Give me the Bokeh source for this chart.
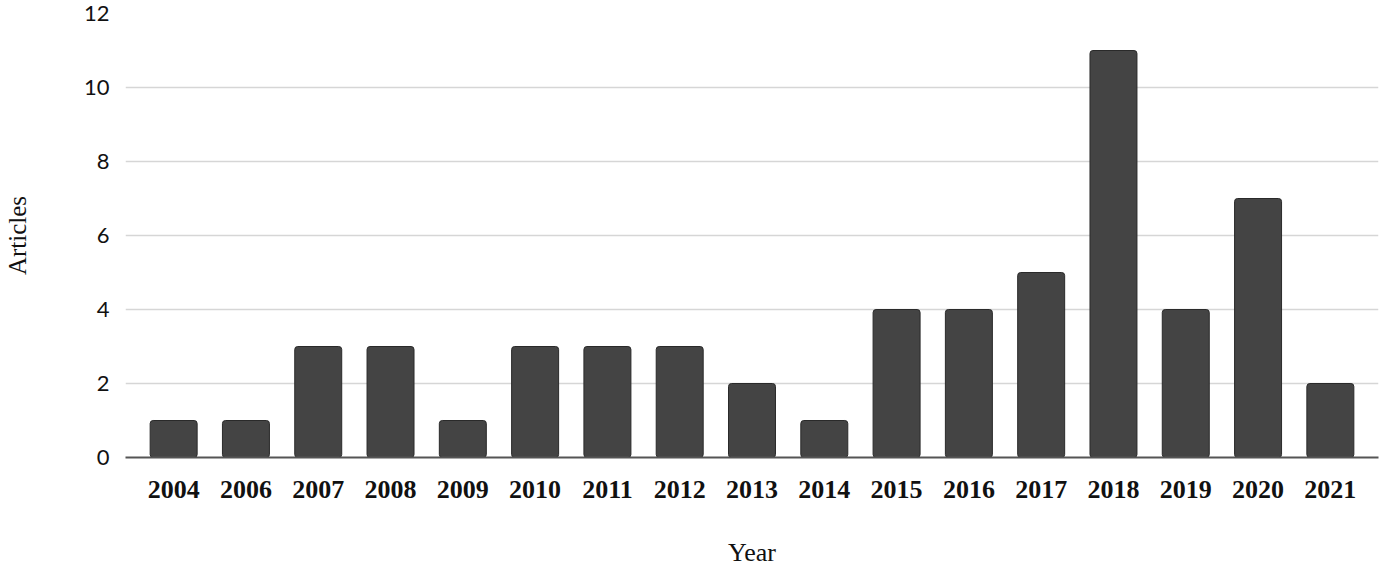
from bokeh.plotting import figure
from bokeh.models import ColumnDataSource, Range1d, FixedTicker, FactorRange
from bokeh.embed import file_html
from bokeh.resources import INLINE

years = ["2004", "2006", "2007", "2008", "2009", "2010", "2011", "2012", "2013",
         "2014", "2015", "2016", "2017", "2018", "2019", "2020", "2021"]
articles = [1, 1, 3, 3, 1, 3, 3, 3, 2, 1, 4, 4, 5, 11, 4, 7, 2]
y_ticks = [0, 2, 4, 6, 8, 10, 12]

src = ColumnDataSource(dict(year=years, articles=articles))

xr = FactorRange(factors=years, range_padding=0.166, range_padding_units="absolute")

p = figure(x_range=xr, y_range=Range1d(0, 12), width=1381, height=573,
           output_backend="svg", toolbar_location=None,
           min_border_left=125, min_border_right=3, min_border_top=13,
           min_border_bottom=116)
p.outline_line_color = None
p.background_fill_color = "white"
p.border_fill_color = "white"

p.vbar(x="year", top="articles", width=0.65, source=src,
       fill_color="#444444", line_color="#2a2a2a", line_width=1,
       border_radius=3)

p.xgrid.grid_line_color = None
p.ygrid.grid_line_color = "#d6d6d6"
p.ygrid.grid_line_width = 1.5
p.yaxis.ticker = FixedTicker(ticks=y_ticks)

p.yaxis.axis_line_color = None
p.yaxis.major_tick_line_color = None
p.yaxis.minor_tick_line_color = None
p.yaxis.major_label_text_font = "Lato"
p.yaxis.major_label_text_font_size = "22px"
p.yaxis.major_label_text_color = "#111111"
p.yaxis.major_label_standoff = 10
p.yaxis.axis_label = "Articles"
p.yaxis.axis_label_text_font = "Liberation Serif"
p.yaxis.axis_label_text_font_style = "normal"
p.yaxis.axis_label_text_font_size = "25px"
p.yaxis.axis_label_text_color = "#111111"
p.yaxis.axis_label_standoff = 50

p.xaxis.axis_line_color = "#555555"
p.xaxis.axis_line_width = 2
p.xaxis.major_tick_line_color = None
p.xaxis.minor_tick_line_color = None
p.xaxis.major_label_text_font = "Liberation Serif"
p.xaxis.major_label_text_font_style = "bold"
p.xaxis.major_label_text_font_size = "26px"
p.xaxis.major_label_text_color = "#111111"
p.xaxis.major_label_standoff = 17
p.xaxis.axis_label = "Year"
p.xaxis.axis_label_text_font = "Liberation Serif"
p.xaxis.axis_label_text_font_style = "normal"
p.xaxis.axis_label_text_font_size = "26px"
p.xaxis.axis_label_text_color = "#111111"
p.xaxis.axis_label_standoff = 37

open("out.html", "w").write(file_html(p, INLINE))
